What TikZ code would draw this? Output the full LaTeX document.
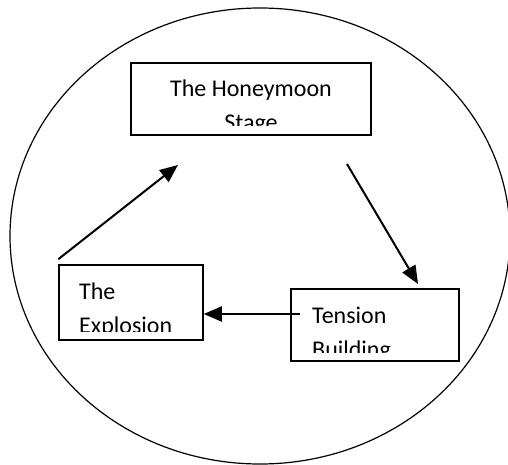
\documentclass[tikz,border=0pt]{standalone}
\usepackage{fontspec}
\setmainfont{Carlito}
\usetikzlibrary{arrows.meta}
\usetikzlibrary{shapes.geometric}
\usetikzlibrary{positioning}

\tikzset{
  stagebox/.style={draw, line width=1.5pt, inner sep=0pt},
  stagetext/.style={inner sep=0pt, align=left, font=\fontsize{24}{34}\selectfont},
  cyclearrow/.style={line width=2pt, -{Triangle[length=18pt, width=15pt]}},
}

\begin{document}
\begin{tikzpicture}[x=1pt, y=-1pt]
    \useasboundingbox (0,0) rectangle (508,465);
    \node[draw, ellipse, line width=1.2pt, minimum width=500pt, minimum height=456pt, inner sep=0pt] (cycle) at (260,236) {};

    \node[stagebox, minimum width=240pt, minimum height=72pt] (honeymoon) at (251,99) {};
    \node[stagebox, minimum width=144pt, minimum height=75pt] (explosion) at (131,302.5) {};
    \node[stagebox, minimum width=168pt, minimum height=72pt] (tension) at (375,325) {};

    % Texts, cut off at the bottom of each box
    \begin{scope}
      \clip (honeymoon.north west) rectangle ([yshift=10pt]honeymoon.south east);
      \node[stagetext, align=center, anchor=base] (honeymoontext) at (251,131) {The Honeymoon\\Stage};
    \end{scope}
    \begin{scope}
      \clip (explosion.north west) rectangle ([yshift=9pt]explosion.south east);
      \node[stagetext, anchor=base west] (explosiontext) at (79,333) {The\\Explosion};
    \end{scope}
    \begin{scope}
      \clip (tension.north west) rectangle ([yshift=9pt]tension.south east);
      \node[stagetext, anchor=base west] (tensiontext) at (312,357) {Tension\\Building};
    \end{scope}

    % Connect the stages
    \coordinate (rise) at ([yshift=5pt]explosion.north west);
    \coordinate (riseend) at (178,165);
    \coordinate (fall) at (347,164);
    \coordinate (fallend) at (418,284);
    \coordinate (blow) at (300,314);
    \draw[cyclearrow] (rise) -- (riseend);
    \draw[cyclearrow] (fall) -- (fallend);
    \draw[cyclearrow] (blow) -- (explosion.east |- blow);
\end{tikzpicture}
\end{document}
